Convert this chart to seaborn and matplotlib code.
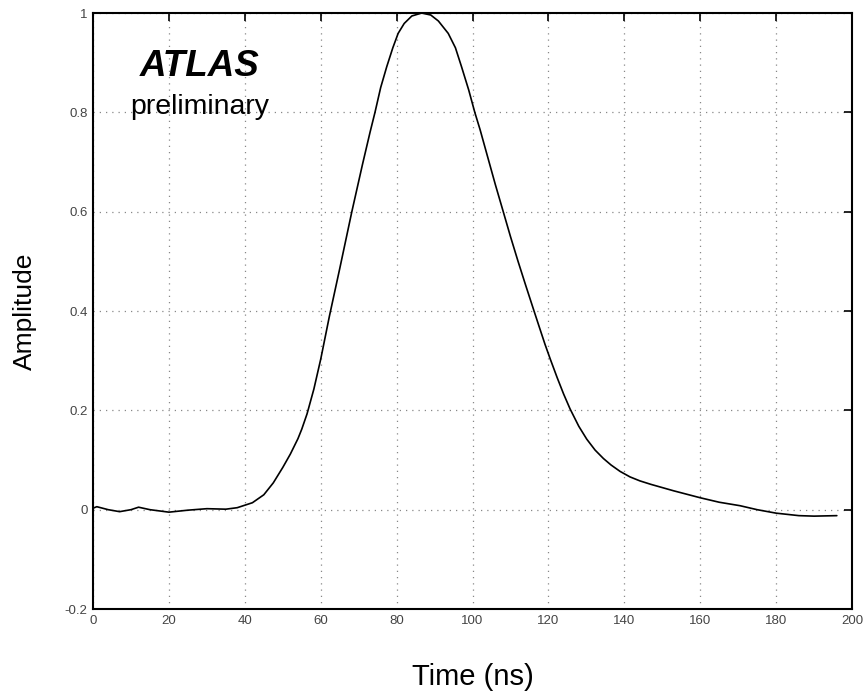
import numpy as np
import pandas as pd
import seaborn as sns
import matplotlib.pyplot as plt

# pulse shape
time_ns = [0, 1, 4, 7, 10, 12, 15, 20, 25, 30, 35, 38, 40, 42, 45, 47.5, 50,
           52, 54, 55, 56.4, 58.2, 60, 62.3, 65, 68.2, 71, 73, 74.3, 75.8, 77.4,
           79, 80.4, 82, 84, 86.6, 89, 91, 93.6, 95.5, 97.1, 99, 100.6, 102,
           104, 106, 108.1, 110, 112, 114, 116, 117.5, 119.1, 120.5, 122.3,
           124, 125.7, 128, 130.1, 132.3, 134.5, 136.5, 138.9, 141.5, 144.1,
           147, 153, 160, 165, 170.5, 175, 180, 186, 190, 196]
amplitude = [0.003, 0.006, 0.0, -0.004, 0.0, 0.005, 0.0, -0.005, -0.001, 0.002,
             0.001, 0.004, 0.009, 0.014, 0.03, 0.054, 0.085, 0.112, 0.143,
             0.162, 0.193, 0.243, 0.303, 0.39, 0.485, 0.60, 0.695, 0.76, 0.80,
             0.85, 0.892, 0.93, 0.959, 0.979, 0.994, 1.0, 0.996, 0.984, 0.959,
             0.93, 0.892, 0.845, 0.80, 0.765, 0.71, 0.655, 0.60, 0.55, 0.50,
             0.452, 0.405, 0.37, 0.333, 0.303, 0.266, 0.233, 0.203, 0.168,
             0.142, 0.12, 0.103, 0.09, 0.077, 0.066, 0.058, 0.051, 0.038,
             0.024, 0.015, 0.008, 0.0, -0.007, -0.012, -0.013, -0.012]

x_ticks = [0, 20, 40, 60, 80, 100, 120, 140, 160, 180, 200]
y_ticks = [-0.2, 0, 0.2, 0.4, 0.6, 0.8, 1]
y_tick_labels = ['-0.2', '0', '0.2', '0.4', '0.6', '0.8', '1']

df = pd.DataFrame({'t': time_ns, 'a': amplitude})

sns.set_style('white')
plt.rcParams['font.family'] = ['Liberation Sans', 'DejaVu Sans']

fig = plt.figure(figsize=(8.67, 6.93), dpi=100)
ax = fig.add_axes([0.1073, 0.1212, 0.8754, 0.86])

sns.lineplot(data=df, x='t', y='a', color='black', linewidth=1.2, ax=ax)

ax.set_xlim(0, 200)
ax.set_ylim(-0.2, 1)
ax.set_xticks(x_ticks)
ax.set_yticks(y_ticks)
ax.set_yticklabels(y_tick_labels)
ax.grid(True, linestyle=(0, (1, 4)), color='#888888', linewidth=0.9)
ax.tick_params(direction='in', length=6, width=1.2, top=True, right=True,
               labelsize=9.5, labelcolor='#444444', colors='black', pad=4)
for s in ax.spines.values():
    s.set_color('black')
    s.set_linewidth(1.5)

ax.set_xlabel('Time (ns)', fontsize=21, labelpad=26, color='black')
ax.set_ylabel('Amplitude', fontsize=19, labelpad=20, color='black')

ax.text(28.2, 0.893, 'ATLAS', fontsize=26.5, fontweight='bold',
        fontstyle='italic', ha='center', va='center', color='black')
ax.text(28.2, 0.81, 'preliminary', fontsize=20.5, ha='center', va='center',
        color='black')

plt.savefig('out.png', dpi=100)
